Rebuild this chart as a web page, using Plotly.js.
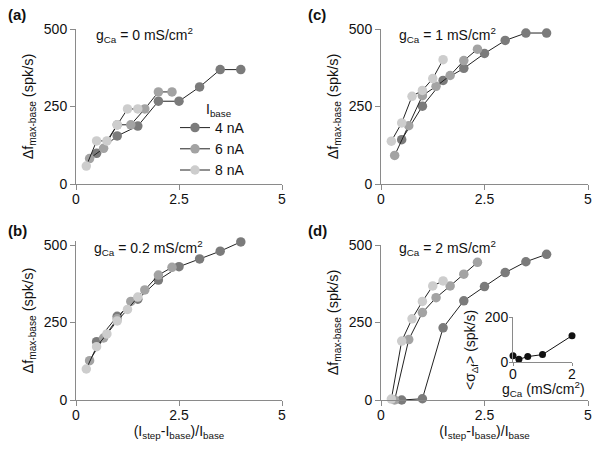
<!DOCTYPE html>
<html>
<head>
<meta charset="utf-8">
<script src="https://cdn.plot.ly/plotly-3.0.1.min.js"></script>
<style>html,body{margin:0;padding:0;background:#fff;}#chart{width:600px;height:449px;}</style>
</head>
<body>
<div id="chart"></div>
<script>
// ---- data ----
const seriesNames = ['4 nA', '6 nA', '8 nA'];
const xDark = [0.5, 1, 1.5, 2, 2.5, 3, 3.5, 4];          // I_base = 4 nA
const xMed = [0.33, 0.67, 1.0, 1.33, 1.67, 2.0, 2.33];   // I_base = 6 nA
const xLight = [0.25, 0.5, 0.75, 1.0, 1.25, 1.5];        // I_base = 8 nA

const aDark = [99, 155, 187, 267, 267, 313, 369, 369];
const aMed = [82, 115, 191, 191, 242, 297, 297];
const aLight = [58, 139, 139, 191, 242, 242];

const bDark = [188, 270, 325, 387, 430, 455, 480, 510];
const bMed = [127, 200, 262, 318, 355, 403, 428];
const bLight = [100, 172, 213, 255, 292, 332];

const cDark = [143, 251, 334, 373, 421, 463, 487, 487];
const cMed = [92, 188, 285, 315, 350, 398, 435];
const cLight = [138, 197, 283, 302, 340, 401];

const dDark = [0, 4, 233, 320, 366, 411, 446, 470];
const dMed = [0, 195, 282, 330, 368, 406, 444];
const dLight = [3, 190, 262, 318, 368, 384];

const gCa = [0, 0.2, 0.5, 1, 2];
const sigma = [28, 12, 24, 33, 117];

const xTicks = [0, 2.5, 5];
const yTicks = [0, 250, 500];
const insetXTicks = [0, 2];
const insetYTicks = [0, 200];

const panelTitles = ['0', '0.2', '1', '2'];
const panelLetters = ['(a)', '(b)', '(c)', '(d)'];

// ---- styles ----
const colors = ['#7b7b7b', '#a3a3a3', '#cdcdcd'];
const FONT = 'Liberation Sans, Arial, Helvetica, sans-serif';
const W = 600, H = 449;
const px = v => v / W;
const py = v => 1 - v / H;

const panels = [
  {k: '', d: [aDark, aMed, aLight], legend: true},
  {k: '3', d: [bDark, bMed, bLight]},
  {k: '2', d: [cDark, cMed, cLight]},
  {k: '4', d: [dDark, dMed, dLight]}
];
const xs = [xDark, xMed, xLight];

const traces = [];
panels.forEach(p => {
  for (let s = 0; s < 3; s++) {
    traces.push({
      type: 'scatter', mode: 'lines+markers',
      x: xs[s], y: p.d[s],
      xaxis: 'x' + p.k, yaxis: 'y' + p.k,
      name: seriesNames[s],
      showlegend: !!p.legend,
      cliponaxis: false,
      line: {color: '#222', width: 1},
      marker: {color: colors[s], size: 9.5, line: {width: 0}}
    });
  }
});
traces.push({
  type: 'scatter', mode: 'lines+markers',
  x: gCa, y: sigma, xaxis: 'x5', yaxis: 'y5',
  showlegend: false, cliponaxis: false,
  line: {color: '#111', width: 1},
  marker: {color: '#111', size: 7}
});

function axBase(extra) {
  return Object.assign({
    showgrid: false, zeroline: false, showline: true,
    linecolor: '#8a8a8a', linewidth: 1,
    ticks: 'outside', ticklen: 5, tickwidth: 1, tickcolor: '#8a8a8a',
    tickfont: {family: FONT, size: 14, color: '#111'},
    fixedrange: true
  }, extra);
}
const xTickText = xTicks.map(String);
const yTickText = yTicks.map(String);
const xTitle = {text: '(I<sub>step</sub>-I<sub>base</sub>)/I<sub>base</sub>', font: {family: FONT, size: 14, color: '#111'}, standoff: 4};
const yTitle = {text: '\u0394f<sub>max-base</sub> (spk/s)', font: {family: FONT, size: 14.5, color: '#111'}, standoff: 6};

const leftX = [px(76), px(282)];
const rightX = [px(381), px(588)];
const topY = [py(184), py(29)];
const botY = [py(400), py(245)];
// panel (b) range extends a little above 500 so its last point stays visible
const botYb = [py(400), py(245 - 12 * 155 / 500)];

const layout = {
  width: W, height: H,
  margin: {l: 0, r: 0, t: 0, b: 0},
  paper_bgcolor: '#fff', plot_bgcolor: 'rgba(0,0,0,0)',
  font: {family: FONT, size: 14, color: '#111'},
  showlegend: true,
  legend: {
    x: px(175), y: py(112), xanchor: 'left', yanchor: 'top',
    bgcolor: 'rgba(0,0,0,0)', font: {family: FONT, size: 14, color: '#111'},
    tracegroupgap: 0, itemwidth: 30
  },
  xaxis: axBase({domain: leftX, range: [0, 5], tickvals: xTicks, ticktext: xTickText, anchor: 'y', ticklabelstandoff: -3}),
  yaxis: axBase({domain: topY, range: [0, 500], tickvals: yTicks, ticktext: yTickText, anchor: 'x', title: yTitle}),
  xaxis2: axBase({domain: rightX, range: [0, 5], tickvals: xTicks, ticktext: xTickText, anchor: 'y2', ticklabelstandoff: -3}),
  yaxis2: axBase({domain: topY, range: [0, 500], tickvals: yTicks, ticktext: yTickText, anchor: 'x2', title: yTitle}),
  xaxis3: axBase({domain: leftX, range: [0, 5], tickvals: xTicks, ticktext: xTickText, anchor: 'y3', title: xTitle, ticklabelstandoff: -3}),
  yaxis3: axBase({domain: botYb, range: [0, 512], tickvals: yTicks, ticktext: yTickText, anchor: 'x3', title: yTitle}),
  xaxis4: axBase({domain: rightX, range: [0, 5], tickvals: xTicks, ticktext: xTickText, anchor: 'y4', title: xTitle, ticklabelstandoff: -3}),
  yaxis4: axBase({domain: botY, range: [0, 500], tickvals: yTicks, ticktext: yTickText, anchor: 'x4', title: yTitle}),
  xaxis5: axBase({domain: [px(513), px(572)], range: [0, 2], tickvals: insetXTicks, ticktext: insetXTicks.map(String), anchor: 'y5', ticklen: 3, ticklabelstandoff: -4}),
  yaxis5: axBase({domain: [py(362), py(317)], range: [0, 200], tickvals: insetYTicks, ticktext: insetYTicks.map(String), anchor: 'x5', ticklen: 3, ticklabelstandoff: -2}),
  annotations: []
};

const annPos = [
  {lx: 6, ly: 15, tx: 94, ty: 35},
  {lx: 6, ly: 230, tx: 92, ty: 248},
  {lx: 306, ly: 15, tx: 397, ty: 35},
  {lx: 306, ly: 230, tx: 397, ty: 248}
];
panelLetters.forEach((L, i) => {
  const a = annPos[i];
  layout.annotations.push({xref: 'paper', yref: 'paper', x: px(a.lx), y: py(a.ly), xanchor: 'left', yanchor: 'middle',
    text: '<b>' + L + '</b>', showarrow: false, font: {family: FONT, size: 15, color: '#111'}});
  layout.annotations.push({xref: 'paper', yref: 'paper', x: px(a.tx), y: py(a.ty), xanchor: 'left', yanchor: 'middle',
    text: 'g<sub>Ca</sub> = ' + panelTitles[i] + ' mS/cm<sup>2</sup>', showarrow: false, font: {family: FONT, size: 14, color: '#111'}});
});
layout.annotations.push({xref: 'paper', yref: 'paper', x: px(204), y: py(110), xanchor: 'left', yanchor: 'middle',
  text: 'I<sub>base</sub>', showarrow: false, font: {family: FONT, size: 14, color: '#111'}});
// inset axis titles
layout.annotations.push({xref: 'paper', yref: 'paper', x: px(471), y: py(350), xanchor: 'center', yanchor: 'middle', textangle: -90,
  text: '&lt;\u03c3<sub>\u0394f</sub>&gt; (spk/s)', showarrow: false, font: {family: FONT, size: 14, color: '#111'}});
layout.annotations.push({xref: 'paper', yref: 'paper', x: px(543), y: py(389), xanchor: 'center', yanchor: 'middle',
  text: 'g<sub>Ca</sub> (mS/cm<sup>2</sup>)', showarrow: false, font: {family: FONT, size: 14, color: '#111'}});

Plotly.newPlot('chart', traces, layout, {displayModeBar: false, staticPlot: true});
</script>
</body>
</html>
